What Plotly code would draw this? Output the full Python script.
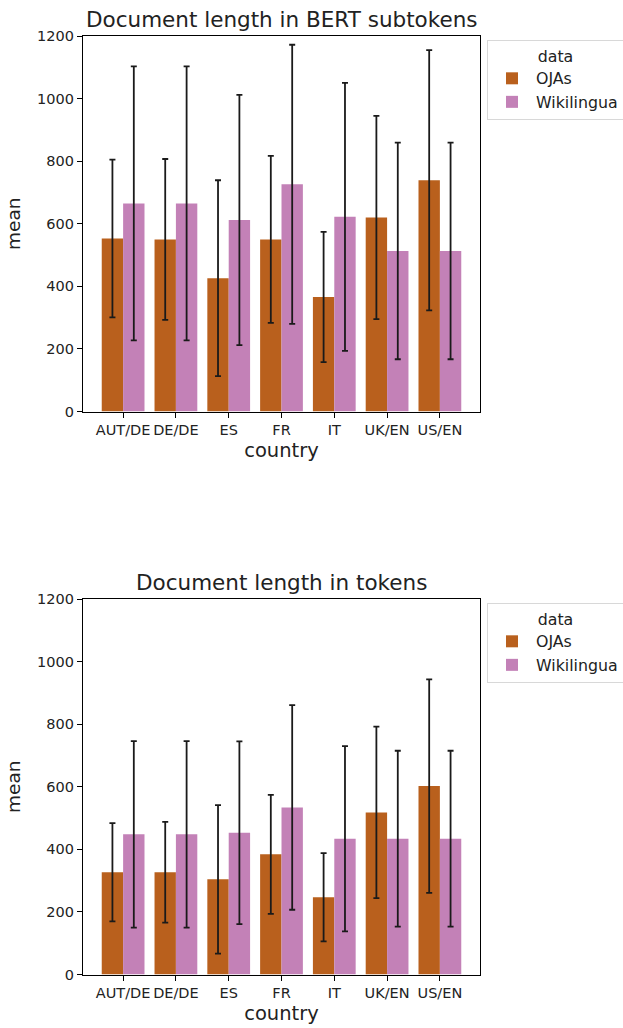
import plotly.graph_objects as go

countries = ["AUT/DE", "DE/DE", "ES", "FR", "IT", "UK/EN", "US/EN"]

# Document length in BERT subtokens
bert_oja_mean = [553, 550, 426, 550, 366, 620, 739]
bert_oja_sd = [252, 257, 313, 267, 208, 325, 416]
bert_wiki_mean = [665, 665, 612, 726, 622, 513, 513]
bert_wiki_sd = [438, 438, 400, 446, 428, 346, 346]

# Document length in tokens
tok_oja_mean = [327, 327, 304, 384, 247, 518, 602]
tok_oja_sd = [157, 161, 237, 190, 141, 274, 341]
tok_wiki_mean = [448, 448, 453, 534, 434, 434, 434]
tok_wiki_sd = [298, 298, 292, 327, 296, 281, 281]

OJA_COLOR = "#b9601d"
WIKI_COLOR = "#c381b7"
FONT = "DejaVu Sans"

xpos = list(range(len(countries)))

fig = go.Figure()


def add_pair(oja_m, oja_s, wiki_m, wiki_s, xa, ya, legend):
    for name, m, s, c in [("OJAs", oja_m, oja_s, OJA_COLOR),
                          ("Wikilingua", wiki_m, wiki_s, WIKI_COLOR)]:
        fig.add_trace(go.Bar(
            x=xpos, y=m, name=name, marker=dict(color=c, line=dict(width=0)),
            error_y=dict(type="data", array=s, visible=True, color="#1a1a1a",
                         thickness=1.8, width=3),
            xaxis=xa, yaxis=ya, legend=legend, offsetgroup=name,
        ))


add_pair(bert_oja_mean, bert_oja_sd, bert_wiki_mean, bert_wiki_sd, "x", "y", "legend")
add_pair(tok_oja_mean, tok_oja_sd, tok_wiki_mean, tok_wiki_sd, "x2", "y2", "legend2")

xdom = [83 / 623, 480 / 623]
ydom_top = [1 - 411.5 / 1028, 1 - 36 / 1028]
ydom_bot = [1 - 974.5 / 1028, 1 - 599 / 1028]

axis_common = dict(showline=True, linecolor="black", linewidth=1.3, mirror=True,
                   ticks="outside", ticklen=5, tickcolor="black", showgrid=False,
                   zeroline=False, automargin=False,
                   tickfont=dict(family=FONT, size=14.5, color="#222"))

xaxis_common = dict(axis_common, tickmode="array", tickvals=xpos, ticktext=countries,
                    tickangle=0, range=[-0.76, 6.76], domain=xdom,
                    title=dict(text="country", font=dict(family=FONT, size=19.5, color="#222"), standoff=6))
yaxis_common = dict(axis_common, range=[0, 1200], tickvals=[0, 200, 400, 600, 800, 1000, 1200],
                    title=dict(text="mean", font=dict(family=FONT, size=18.5, color="#222"), standoff=11))

legend_common = dict(x=487 / 623, xanchor="left", yanchor="top",
                     bgcolor="white", bordercolor="#d8d8d8", borderwidth=1,
                     font=dict(family=FONT, size=15.8, color="#222"),
                     title=dict(text="data", side="top center", font=dict(family=FONT, size=15.8, color="#222")),
                     itemsizing="constant", itemwidth=38, tracegroupgap=2)

fig.update_layout(
    width=623, height=1028,
    margin=dict(l=0, r=0, t=0, b=0, autoexpand=False),
    paper_bgcolor="white", plot_bgcolor="white",
    barmode="group", bargap=0.19, bargroupgap=0,
    font=dict(family=FONT, color="#222"),
    xaxis=dict(xaxis_common, anchor="y"),
    yaxis=dict(yaxis_common, domain=ydom_top, anchor="x"),
    xaxis2=dict(xaxis_common, anchor="y2"),
    yaxis2=dict(yaxis_common, domain=ydom_bot, anchor="x2"),
    legend=dict(legend_common, y=1 - 40 / 1028),
    legend2=dict(legend_common, y=1 - 603 / 1028),
    annotations=[
        dict(text="Document length in BERT subtokens", x=(xdom[0] + xdom[1]) / 2, y=1 - 19 / 1028,
             xref="paper", yref="paper", showarrow=False, yanchor="middle",
             font=dict(family=FONT, size=21.5, color="#222")),
        dict(text="Document length in tokens", x=(xdom[0] + xdom[1]) / 2, y=1 - 582 / 1028,
             xref="paper", yref="paper", showarrow=False, yanchor="middle",
             font=dict(family=FONT, size=21.5, color="#222")),
    ],
)

fig.write_html("out.html", config={"displayModeBar": False},
               post_script="document.body.style.margin='0';document.body.style.overflow='hidden';")
